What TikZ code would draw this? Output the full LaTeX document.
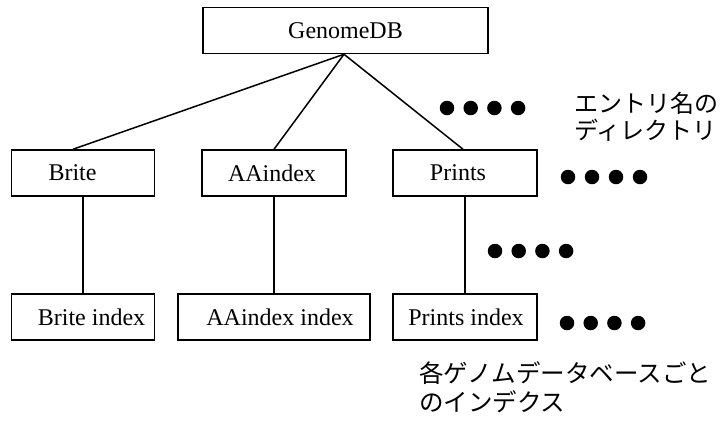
\documentclass[tikz,border=0pt]{standalone}
\usepackage{fontspec}
\setmainfont{Liberation Serif}
\newfontfamily\jpfont{Noto Sans CJK JP}
\begin{document}
\begin{tikzpicture}[x=1pt,y=-1pt,
  box/.style={draw,line width=1.5pt,inner sep=0pt,minimum height=46pt},
  lbl/.style={font=\fontsize{24}{28}\selectfont},
  conn/.style={line width=1.5pt},
  dotmark/.style={circle,fill=black,inner sep=0pt,minimum size=14.5pt},
  jp/.style={font=\jpfont\fontsize{24}{27}\selectfont,align=left,inner sep=0pt,anchor=west}]
\useasboundingbox (0,0) rectangle (725,421);
% boxes
\node[box,minimum width=285pt] (G) at (345.5,30.5) {};
\node[lbl] at (G.center) {GenomeDB};
\node[box,minimum width=143pt] (B) at (83,173) {};
\node[lbl] at ([xshift=-10.5pt]B.center) {Brite};
\node[box,minimum width=144pt] (A) at (274,173) {};
\node[lbl] at ([xshift=-2pt]A.center) {AAindex};
\node[box,minimum width=144pt] (P) at (465,173) {};
\node[lbl] at ([xshift=-7pt]P.center) {Prints};
\node[box,minimum width=143pt] (Bi) at (83,317) {};
\node[lbl] at ([xshift=8.5pt]Bi.center) {Brite index};
\node[box,minimum width=192pt] (Ai) at (274,317) {};
\node[lbl] at ([xshift=6pt]Ai.center) {AAindex index};
\node[box,minimum width=144pt] (Pi) at (465,317) {};
\node[lbl] at ([xshift=1pt]Pi.center) {Prints index};
% connectors
\coordinate (apex) at ([xshift=-1.5pt]G.south);
\draw[conn] (apex) -- ([xshift=-10pt]B.north);
\draw[conn] (apex) -- (A.north);
\draw[conn] (apex) -- ([xshift=-2pt]P.north);
\draw[conn] (B.south) -- (Bi.north);
\draw[conn] (A.south) -- (Ai.north);
\draw[conn] (P.south) -- (Pi.north);
% dots
\foreach \i in {0,1,2,3} {
  \node[dotmark] (da\i) at (447+23.7*\i,108) {};
  \node[dotmark] (db\i) at (568+24*\i,177) {};
  \node[dotmark] (dc\i) at (495+23.7*\i,251) {};
  \node[dotmark] (dd\i) at (567+23.7*\i,323) {};
}
% texts
\node[jp] (t1) at (574,116.5) {エントリ名の\\ディレクトリ};
\node[jp,font=\jpfont\fontsize{24.5}{29}\selectfont] (t2) at (419,387.5) {各ゲノムデータベースごと\\のインデクス};
\end{tikzpicture}
\end{document}
